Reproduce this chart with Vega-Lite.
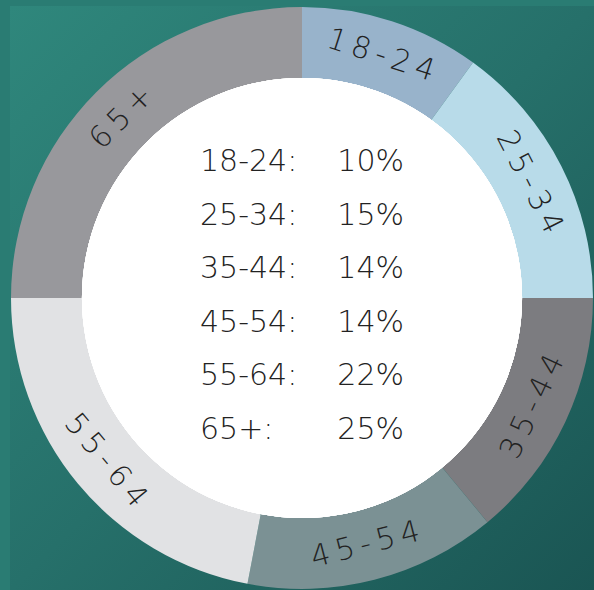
{
  "$schema": "https://vega.github.io/schema/vega-lite/v6.json",
  "width": 584,
  "height": 584,
  "padding": {"left": 10, "top": 6, "right": 0, "bottom": 0},
  "autosize": {"type": "none"},
  "background": "#2a7c73",
  "config": {"view": {"stroke": null}, "font": "DejaVu Sans"},
  "data": {
    "values": [
      {"age": "18-24", "value": 10},
      {"age": "25-34", "value": 15},
      {"age": "35-44", "value": 14},
      {"age": "45-54", "value": 14},
      {"age": "55-64", "value": 22},
      {"age": "65+", "value": 25}
    ]
  },
  "transform": [
    {"window": [{"op": "sum", "field": "value", "as": "cum"}], "sort": [{"field": "age"}], "frame": [null, 0]},
    {"joinaggregate": [{"op": "sum", "field": "value", "as": "total"}]},
    {"calculate": "(datum.cum - datum.value / 2) / datum.total * 360", "as": "mid"},
    {"calculate": "datum.mid > 90 && datum.mid < 270 ? datum.mid - 180 : datum.mid", "as": "rot"},
    {"calculate": "join(split(datum.age, ''), '\u2009')", "as": "spaced"},
    {"calculate": "datum.age + ':'", "as": "label"},
    {"calculate": "datum.value + '%'", "as": "pct"}
  ],
  "layer": [
    {
      "mark": {
        "type": "rect",
        "fill": {
          "gradient": "linear", "x1": 0, "y1": 0, "x2": 1, "y2": 1,
          "stops": [{"offset": 0, "color": "#2f877c"}, {"offset": 0.5, "color": "#26706a"}, {"offset": 1, "color": "#1a5553"}]
        }
      },
      "encoding": {}
    },
    {
      "mark": {"type": "arc", "radius": 291, "innerRadius": 219},
      "encoding": {
        "theta": {"field": "value", "type": "quantitative", "stack": true},
        "order": {"field": "age", "type": "ordinal", "sort": "ascending"},
        "color": {
          "field": "age", "type": "nominal", "legend": null,
          "scale": {
            "domain": ["18-24", "25-34", "35-44", "45-54", "55-64", "65+"],
            "range": ["#98b3cb", "#b8dbe9", "#7c7c80", "#7b9194", "#e1e2e4", "#98989c"]
          }
        }
      }
    },
    {
      "mark": {"type": "arc", "radius": 220, "theta": 0, "theta2": 6.2832, "fill": "white"},
      "encoding": {}
    },
    {
      "mark": {"type": "text", "radius": 255, "fontSize": 30, "fontWeight": 300, "color": "#222222", "align": "center", "baseline": "middle"},
      "encoding": {
        "theta": {"field": "value", "type": "quantitative", "stack": true},
        "order": {"field": "age", "type": "ordinal", "sort": "ascending"},
        "text": {"field": "spaced"},
        "angle": {"field": "rot", "type": "quantitative", "scale": null}
      }
    },
    {
      "mark": {"type": "text", "fontSize": 30, "fontWeight": 300, "color": "#222222", "align": "left", "baseline": "middle", "dx": -102},
      "encoding": {
        "y": {"field": "age", "type": "ordinal", "scale": {"type": "point", "range": [156, 424], "padding": 0}, "axis": null},
        "text": {"field": "label"}
      }
    },
    {
      "mark": {"type": "text", "fontSize": 30, "fontWeight": 300, "color": "#222222", "align": "right", "baseline": "middle", "dx": 102},
      "encoding": {
        "y": {"field": "age", "type": "ordinal", "scale": {"type": "point", "range": [156, 424], "padding": 0}, "axis": null},
        "text": {"field": "pct"}
      }
    }
  ]
}
